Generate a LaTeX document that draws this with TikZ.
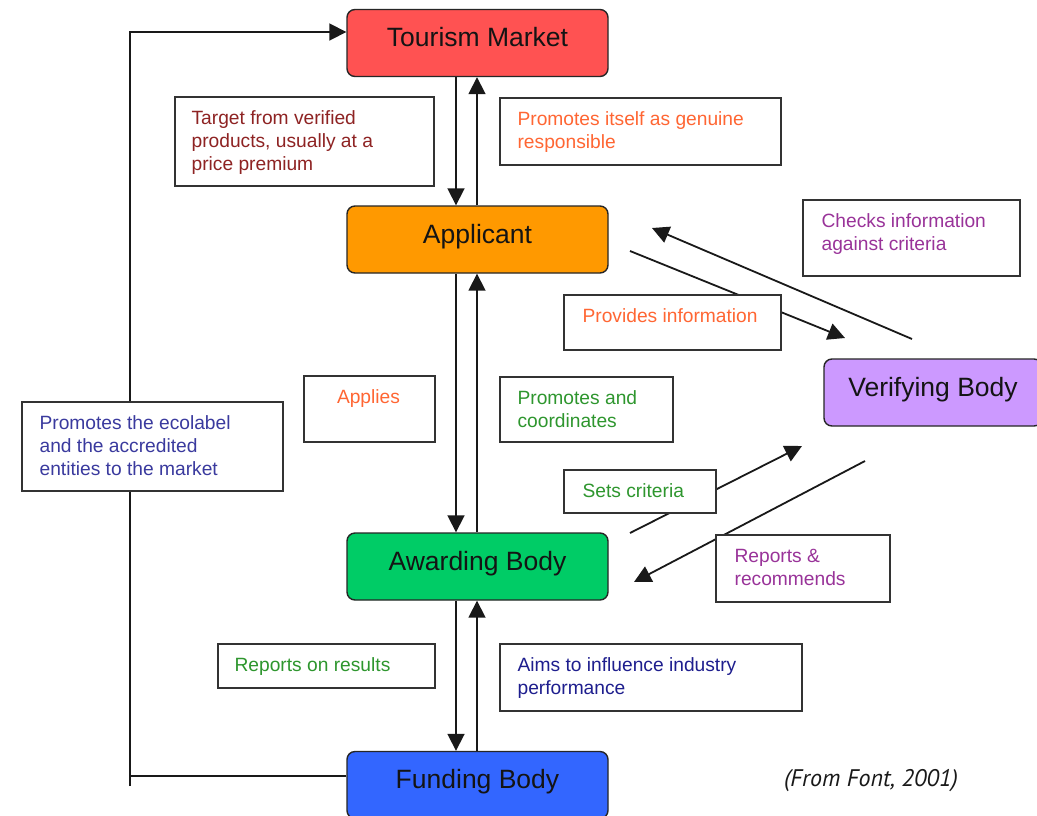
\documentclass[tikz,border=0pt]{standalone}
\usepackage{fontspec}
\setmainfont{Liberation Sans}
\newfontfamily\notefont{PT Sans}
\usetikzlibrary{arrows.meta,calc}
\definecolor{cRed}{HTML}{FF5252}
\definecolor{cOrange}{HTML}{FF9900}
\definecolor{cGreen}{HTML}{00CC66}
\definecolor{cBlue}{HTML}{3366FF}
\definecolor{cViolet}{HTML}{CC99FF}
\definecolor{tRed}{HTML}{8E2323}
\definecolor{tOrange}{HTML}{FF6633}
\definecolor{tPurple}{HTML}{993399}
\definecolor{tGreen}{HTML}{2E962E}
\definecolor{tBlue}{HTML}{3A3A9E}
\definecolor{tNavy}{HTML}{1E1E8E}
\begin{document}
\begin{tikzpicture}[x=1pt,y=-1pt,
  mainbox/.style={draw=black!85, line width=1.4pt, rounded corners=8pt,
    minimum width=261pt, minimum height=67pt, inner sep=0pt,
    font=\fontsize{26.5}{30}\selectfont, text height=19pt, text depth=12pt, text=black!92},
  lbox/.style={draw=black!80, line width=1.2pt, fill=white, inner sep=0pt},
  ltext/.style={font=\fontsize{19.2}{23}\selectfont, align=left, inner sep=0pt, anchor=north west},
  conn/.style={line width=1.8pt, draw=black!90},
  arr/.style={conn, -{Triangle[length=17pt,width=17pt]}}
]
\useasboundingbox (0,0) rectangle (1037,815);
\fill[white] (0,0) rectangle (1037,815);

% coordinates for free ends
\coordinate (lb) at (130,786);
\coordinate (pS) at (630,251);
\coordinate (pE) at (845,338);
\coordinate (cS) at (912,339);
\coordinate (cE) at (652,228);
\coordinate (sS) at (630,533);
\coordinate (sE) at (802,446);
\coordinate (rS) at (865,461);
\coordinate (rE) at (634,582);

% main boxes
\node[mainbox, fill=cRed] (tour) at (477.5,43) {Tourism Market};
\node[mainbox, fill=cOrange] (app) at (477.5,239.5) {Applicant};
\node[mainbox, fill=cGreen] (awd) at (477.5,566.5) {Awarding Body};
\node[mainbox, fill=cBlue] (fund) at (477.5,785) {Funding Body};
\node[mainbox, fill=cViolet, minimum width=218pt] (ver) at (933,392.5) {Verifying Body};

% vertical connectors
\draw[arr] ([xshift=-21.5pt]tour.south) -- ([xshift=-21.5pt]app.north);
\draw[arr] ([xshift=-0.5pt]app.north) -- ([xshift=-0.5pt]tour.south);
\draw[arr] ([xshift=-21.5pt]app.south) -- ([xshift=-21.5pt]awd.north);
\draw[arr] ([xshift=-0.5pt]awd.north) -- ([xshift=-0.5pt]app.south);
\draw[arr] ([xshift=-21.5pt]awd.south) -- ([xshift=-21.5pt]fund.north);
\draw[arr] ([xshift=-0.5pt]fund.north) -- ([xshift=-0.5pt]awd.south);

% left loop
\draw[conn] ([yshift=9pt]fund.west) -| (lb);
\draw[arr] (lb) |- ([yshift=11pt]tour.west);

% diagonal connectors
\draw[arr] (pS) -- (pE);
\draw[arr] (cS) -- (cE);
\draw[arr] (sS) -- (sE);
\draw[arr] (rS) -- (rE);

% label boxes
\node[lbox, minimum width=259pt, minimum height=89pt] (tgt) at (304.5,141.5) {};
\node[ltext, text=tRed] (tgtT) at ($(tgt.north west)+(17,12)$) {\strut Target from verified\\products, usually at a\\price premium};

\node[lbox, minimum width=281pt, minimum height=67pt] (prom) at (640.5,131.5) {};
\node[ltext, text=tOrange] (promT) at ($(prom.north west)+(18,12)$) {\strut Promotes itself as genuine\\responsible};

\node[lbox, minimum width=217pt, minimum height=76pt] (chk) at (911.5,238) {};
\node[ltext, text=tPurple] (chkT) at ($(chk.north west)+(19,12)$) {\strut Checks information\\against criteria};

\node[lbox, minimum width=217pt, minimum height=55pt] (prov) at (672.5,322.5) {};
\node[ltext, text=tOrange] (provT) at ($(prov.north west)+(19,12)$) {\strut Provides information};

\node[lbox, minimum width=131pt, minimum height=66pt] (appl) at (369.5,409) {};
\node[ltext, text=tOrange, anchor=north] (applT) at ($(appl.north)+(-1,12)$) {\strut Applies};

\node[lbox, minimum width=173pt, minimum height=65pt] (pac) at (586.5,409.5) {};
\node[ltext, text=tGreen] (pacT) at ($(pac.north west)+(18,12)$) {\strut Promotes and\\coordinates};

\node[lbox, minimum width=261pt, minimum height=89pt] (eco) at (152.5,446.5) {};
\node[ltext, text=tBlue] (ecoT) at ($(eco.north west)+(18,12)$) {\strut Promotes the ecolabel\\and the accredited\\entities to the market};

\node[lbox, minimum width=152pt, minimum height=43pt] (sets) at (640,491.5) {};
\node[ltext, text=tGreen] (setsT) at ($(sets.north west)+(19,12)$) {\strut Sets criteria};

\node[lbox, minimum width=174pt, minimum height=67pt] (rep) at (803,568.5) {};
\node[ltext, text=tPurple] (repT) at ($(rep.north west)+(19,12)$) {\strut Reports \&\\recommends};

\node[lbox, minimum width=217pt, minimum height=44pt] (ror) at (326.5,666) {};
\node[ltext, text=tGreen] (rorT) at ($(ror.north west)+(17,12)$) {\strut Reports on results};

\node[lbox, minimum width=302pt, minimum height=67pt] (aims) at (651,677.5) {};
\node[ltext, text=tNavy] (aimsT) at ($(aims.north west)+(18,12)$) {\strut Aims to influence industry\\performance};

% source note
\node[font=\notefont\itshape\fontsize{24}{28}\selectfont, inner sep=0pt, text=black!90] (src) at (871,781) {(From Font, 2001)};
\end{tikzpicture}
\end{document}
